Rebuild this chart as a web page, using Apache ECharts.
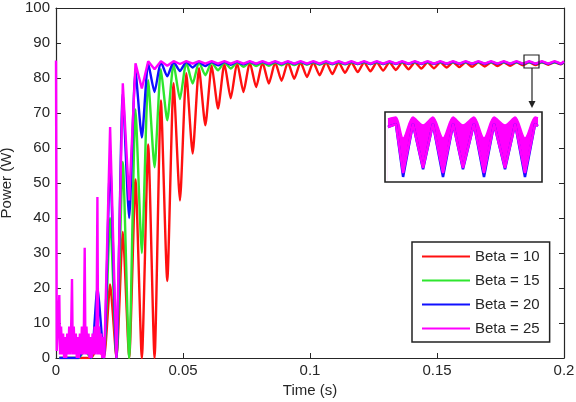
<!DOCTYPE html>
<html><head><meta charset="utf-8">
<script src="https://cdn.jsdelivr.net/npm/echarts@6/dist/echarts.min.js"></script>
<style>html,body{margin:0;padding:0;background:#fff}#c{width:576px;height:402px}</style>
</head><body><div id="c"></div>
<script>
// ---- data ----
const peakTimes = [0.0013,0.0063,0.0113,0.0163,0.0213,0.0263,0.0313,0.0363,0.0413,0.0463,
  0.0513,0.0563,0.0613,0.0663,0.0713,0.0763,0.0813,0.0863,0.0913,0.0963,
  0.1013,0.1063,0.1113,0.1163,0.1213,0.1263,0.1313,0.1363,0.1413,0.1463,
  0.1513,0.1563,0.1613,0.1663,0.1713,0.1763,0.1813,0.1863,0.1913,0.1963];
const troughTimes = [0.0038,0.0088,0.0138,0.0188,0.0238,0.0288,0.0338,0.0388,0.0438,0.0488,
  0.0538,0.0588,0.0638,0.0688,0.0738,0.0788,0.0838,0.0888,0.0938,0.0988,
  0.1038,0.1088,0.1138,0.1188,0.1238,0.1288,0.1338,0.1388,0.1438,0.1488,
  0.1538,0.1588,0.1638,0.1688,0.1738,0.1788,0.1838,0.1888,0.1938,0.1988];

const redPeaks = [0,0,0,3,21,36,51,61,73.6,78.5, 81.4,82.8,83.6,84.1,84.4,84.5,84.5,84.5,84.5,84.5,
  84.5,84.5,84.5,84.5,84.5,84.5,84.5,84.5,84.5,84.5, 84.5,84.5,84.5,84.5,84.5,84.5,84.5,84.5,84.5,84.5];
const redTroughs = [0,0,0,0,0,0,0,0,22,45, 58.4,66.5,71.3,74.2,76.0,77.4,78.4,79.2,79.8,80.3,
  80.8,81.1,81.5,81.7,81.9,82.1,82.3,82.5,82.7,82.8, 83.0,83.1,83.2,83.3,83.4,83.5,83.6,83.7,83.8,83.9];

const greenPeaks = [0,0,2,10,40,56,71,79.4,82.5,84.0, 84.5,84.5,84.5,84.5,84.5,84.5,84.5,84.5,84.5,84.5,
  84.5,84.5,84.5,84.5,84.5,84.5,84.5,84.5,84.5,84.5, 84.5,84.5,84.5,84.5,84.5,84.5,84.5,84.5,84.5,84.5];
const greenTroughs = [0,0,0,0,0,0,30,54.5,67.9,74.0, 78.4,80.8,82.2,82.7,83.2,83.4,83.5,83.6,83.7,83.8,
  83.8,83.9,83.9,84.0,84.0,84.0,84.1,84.1,84.1,84.1, 84.1,84.1,84.1,84.1,84.1,84.1,84.1,84.1,84.1,84.1];

const bluePeaks = [0,0,3,20,55.6,75.6,82.0,84.2,84.6,84.6, 84.6,84.6,84.6,84.6,84.6,84.6,84.6,84.6,84.6,84.6,
  84.6,84.6,84.6,84.6,84.6,84.6,84.6,84.6,84.6,84.6, 84.6,84.6,84.6,84.6,84.6,84.6,84.6,84.6,84.6,84.6];
const blueTroughs = [0,0,0,0,0,40,63,76,80.5,82.0, 83.0,83.4,83.6,83.8,83.9,84.0,84.0,84.0,84.0,84.0,
  84.0,84.0,84.0,84.0,84.0,84.0,84.0,84.0,84.0,84.0, 84.0,84.0,84.0,84.0,84.0,84.0,84.0,84.0,84.0,84.0];

// magenta: detailed early ripple (t < 0.019 s), then peaks/troughs from the 5th cycle on
const magentaEarlyTimes = [0,0.0003,0.0008,0.0013,0.0016,0.0020,0.0024,0.0028,0.0032,0.0036,0.0040,0.0044,0.0048,0.0052,0.0056,0.0060,
  0.0063,0.0066,0.0070,0.0074,0.0078,0.0082,0.0086,0.0090,0.0094,0.0098,0.0102,0.0106,0.0110,
  0.0113,0.0116,0.0120,0.0124,0.0128,0.0132,0.0136,0.0140,0.0144,0.0148,0.0152,0.0156,0.0160,
  0.0163,0.0166,0.0170,0.0174,0.0178,0.0182,0.0186,0.0190];
const magentaEarlyValues = [85,2,9,18,1,9,1,7,0,6,0,7,1,9,1,10,
  22.6,1,9,1,7,0,6,0,7,1,9,1,10,
  31.5,1,9,1,7,0,6,0,7,1,9,1,10,
  46,1,9,1,7,0,6,0];
const magentaPeaks = [66,78.5,84.2,84.8,84.8,84.8, 84.8,84.8,84.8,84.8,84.8,84.8,84.8,84.8,84.8,84.8,
  84.8,84.8,84.8,84.8,84.8,84.8,84.8,84.8,84.8,84.8, 84.8,84.8,84.8,84.8,84.8,84.8,84.8,84.8,84.8,84.8];
const magentaTroughs = [0,45,77,82.5,83.5,84.0, 84.1,84.1,84.1,84.1,84.1,84.1,84.1,84.1,84.1,84.1,
  84.1,84.1,84.1,84.1,84.1,84.1,84.1,84.1,84.1,84.1, 84.1,84.1,84.1,84.1,84.1,84.1,84.1,84.1,84.1,84.1];

// inset (zoom of the magenta ripple near t = 0.187 s)
const insetTimes = [0.18441,0.18471,0.18498,0.18535,0.18573,0.18610,0.18648,0.18686,0.18723,0.18764,0.18802,0.18840,0.18881,0.18919,0.18956,0.18994,0.19005];
const insetUpper = [84.78,84.84,84.18,84.84,84.59,84.84,84.18,84.84,84.59,84.84,84.18,84.84,84.59,84.84,84.18,84.84,84.81];
const insetLower = [84.53,84.62,83.08,84.62,83.24,84.62,83.08,84.62,83.24,84.62,83.08,84.62,83.24,84.62,83.08,84.62,84.56];
const insetBlueLower = [84.53,84.62,82.96,84.62,83.20,84.62,82.96,84.62,83.20,84.62,82.96,84.62,83.20,84.62,82.96,84.62,84.56];

const seriesNames = ['Beta = 10','Beta = 15','Beta = 20','Beta = 25'];
const xTicks = [0, 0.05, 0.1, 0.15, 0.2];
const yTicks = [0,10,20,30,40,50,60,70,80,90,100];

// ---- build ----
function build(pk, tr, startK) {
  const d = [];
  for (let k = startK; k < peakTimes.length; k++) {
    d.push([peakTimes[k], pk[k - startK]]);
    d.push([troughTimes[k], tr[k - startK]]);
  }
  d.push([0.2, pk[pk.length - 1]]);
  return d;
}
const redData = build(redPeaks, redTroughs, 0);
const greenData = build(greenPeaks, greenTroughs, 0);
const blueData = build(bluePeaks, blueTroughs, 0);
const magentaData = magentaEarlyTimes.map((t, i) => [t, magentaEarlyValues[i]]).concat(build(magentaPeaks, magentaTroughs, 4));

const colors = ['#ff1010', '#2ee62e', '#1010ff', '#ff00ff'];
const font = 'Liberation Sans, Arial, sans-serif';
const txt = '#262626';

const chart = echarts.init(document.getElementById('c'), null, {renderer: 'canvas'});
const lineSeries = (name, data, color) => ({
  name, type: 'line', data, xAxisIndex: 0, yAxisIndex: 0, symbol: 'none',
  smooth: 0.2, lineStyle: {color, width: 2.4}, itemStyle: {color}, animation: false
});
const insetPairs = (vals) => insetTimes.map((t, i) => [t, vals[i]]);
chart.setOption({
  backgroundColor: '#fff',
  animation: false,
  grid: [
    {left: 56, right: 12, top: 8, bottom: 44, show: false, containLabel: false, outerBoundsMode: 'none'},
    {left: 385, top: 112, width: 157, height: 70, show: false, containLabel: false, outerBoundsMode: 'none'}
  ],
  xAxis: [
    {type: 'value', gridIndex: 0, min: xTicks[0], max: xTicks[xTicks.length-1], interval: 0.05,
     name: 'Time (s)', nameLocation: 'middle', nameGap: 21,
     nameTextStyle: {fontFamily: font, fontSize: 15, color: txt},
     axisLine: {lineStyle: {color: '#262626', width: 1.2}},
     axisTick: {inside: true, length: 5, lineStyle: {color: '#262626'}},
     axisLabel: {fontFamily: font, fontSize: 15, color: txt, margin: 5},
     splitLine: {show: false}},
    {type: 'value', gridIndex: 0, position: 'top', min: 0, max: 0.2, interval: 0.05,
     axisLine: {onZero: false, lineStyle: {color: '#262626', width: 1.2}},
     axisTick: {inside: true, length: 5, lineStyle: {color: '#262626'}},
     axisLabel: {show: false}, splitLine: {show: false}},
    {type: 'value', gridIndex: 1, min: 0.1843, max: 0.1902, show: false}
  ],
  yAxis: [
    {type: 'value', gridIndex: 0, min: yTicks[0], max: yTicks[yTicks.length-1], interval: 10,
     name: 'Power (W)', nameLocation: 'middle', nameGap: 35, nameRotate: 90,
     nameTextStyle: {fontFamily: font, fontSize: 15, color: txt},
     axisLine: {show: true, lineStyle: {color: '#262626', width: 1.2}},
     axisTick: {show: true, inside: true, length: 5, lineStyle: {color: '#262626'}},
     axisLabel: {fontFamily: font, fontSize: 15, color: txt, margin: 6},
     splitLine: {show: false}},
    {type: 'value', gridIndex: 0, position: 'right', min: 0, max: 100, interval: 10,
     axisLine: {show: true, onZero: false, lineStyle: {color: '#262626', width: 1.2}},
     axisTick: {show: true, inside: true, length: 5, lineStyle: {color: '#262626'}},
     axisLabel: {show: false}, splitLine: {show: false}},
    {type: 'value', gridIndex: 1, min: 82.8, max: 85.0, show: false}
  ],
  legend: {
    orient: 'vertical', left: 412, top: 242,
    data: seriesNames,
    icon: 'rect', itemWidth: 48, itemHeight: 2, itemGap: 7,
    padding: [6, 10, 5, 10],
    borderColor: '#222', borderWidth: 1.5, backgroundColor: '#fff',
    textStyle: {fontFamily: font, fontSize: 15, color: txt, lineHeight: 17},
    z: 10
  },
  series: [
    lineSeries(seriesNames[0], redData, colors[0]),
    lineSeries(seriesNames[1], greenData, colors[1]),
    lineSeries(seriesNames[2], blueData, colors[2]),
    Object.assign(lineSeries(seriesNames[3], magentaData, colors[3]), {smooth: false}),
    // inset band: magenta fill under upper envelope, white fill under lower envelope
    {type: 'line', xAxisIndex: 2, yAxisIndex: 2, symbol: 'none', silent: true, z: 6, smooth: 0.3,
     data: insetPairs(insetUpper), lineStyle: {color: '#ff00ff', width: 1.5},
     areaStyle: {color: '#ff00ff', opacity: 1, origin: 'start'}},
    {type: 'line', xAxisIndex: 2, yAxisIndex: 2, symbol: 'none', silent: true, z: 7,
     data: insetPairs(insetLower), lineStyle: {width: 0, opacity: 0},
     areaStyle: {color: '#ffffff', opacity: 1, origin: 'start'}},
    {type: 'line', xAxisIndex: 2, yAxisIndex: 2, symbol: 'none', silent: true, z: 8,
     data: insetPairs(insetBlueLower), lineStyle: {color: '#1010ff', width: 2.5}},
    {type: 'line', xAxisIndex: 2, yAxisIndex: 2, symbol: 'none', silent: true, z: 9,
     data: insetPairs(insetLower), lineStyle: {color: '#ff00ff', width: 2.5}}
  ],
  graphic: [
    {type: 'rect', shape: {x: 385, y: 112, width: 157, height: 70}, style: {fill: 'none', stroke: '#222', lineWidth: 1.6}, z: 20},
    {type: 'rect', shape: {x: 524, y: 55, width: 15, height: 13}, style: {fill: 'none', stroke: '#222', lineWidth: 1.2}, z: 20},
    {type: 'line', shape: {x1: 532, y1: 68, x2: 532, y2: 102}, style: {stroke: '#222', lineWidth: 1.2}, z: 20},
    {type: 'polygon', shape: {points: [[528.5, 101], [535.5, 101], [532, 108]]}, style: {fill: '#222'}, z: 20}
  ]
});
</script></body></html>
